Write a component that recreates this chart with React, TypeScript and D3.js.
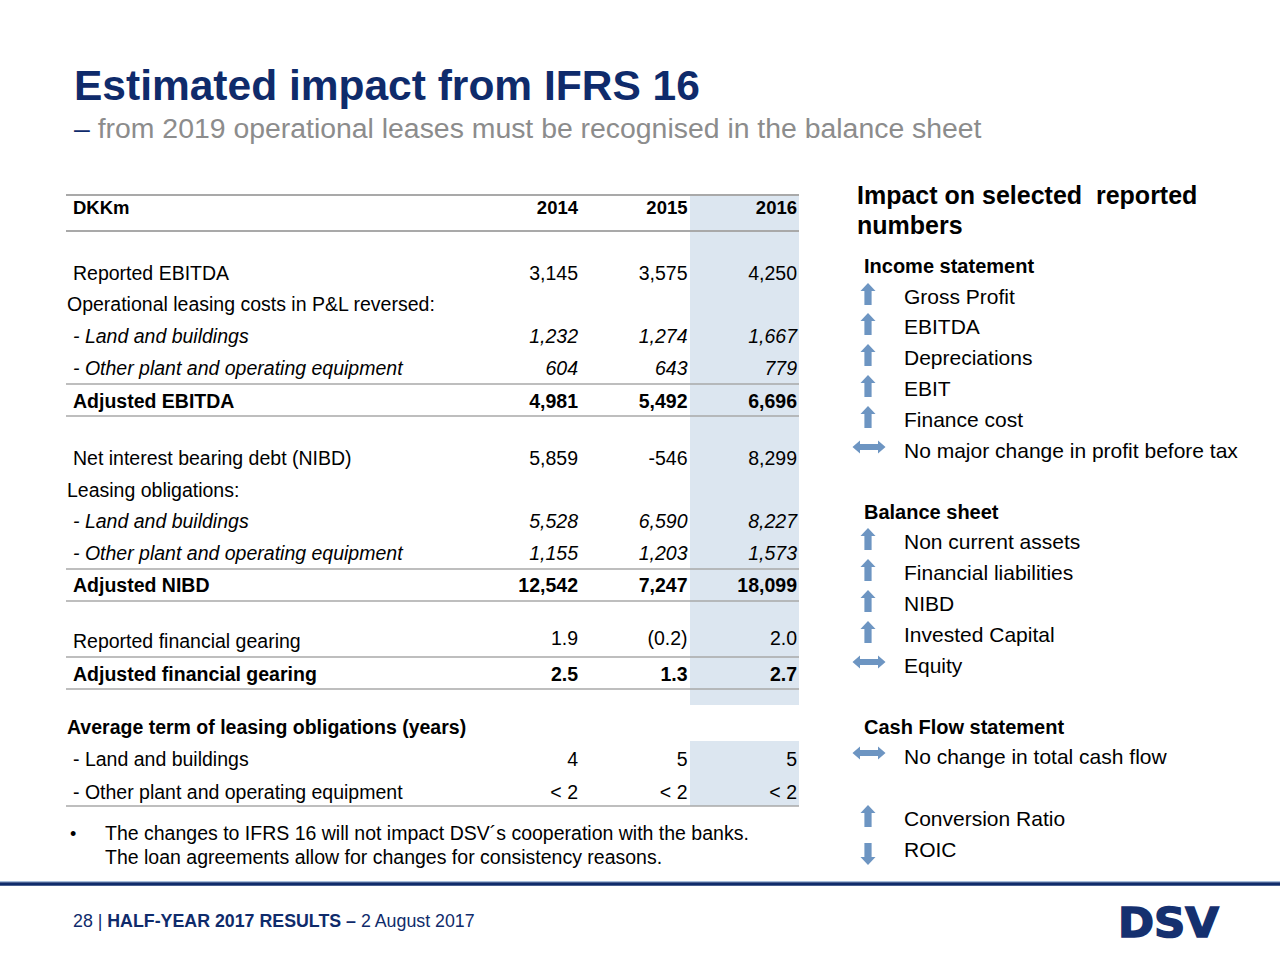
import React from "react";
import * as d3 from "d3";

// ---------- Data ----------
const years = ["2014", "2015", "2016"];
const reportedEBITDA = [3145, 3575, 4250];
const leaseCostLand = [1232, 1274, 1667];
const leaseCostOther = [604, 643, 779];
const adjustedEBITDA = [4981, 5492, 6696];
const nibd = [5859, -546, 8299];
const leaseObligLand = [5528, 6590, 8227];
const leaseObligOther = [1155, 1203, 1573];
const adjustedNIBD = [12542, 7247, 18099];
const reportedGearing = [1.9, -0.2, 2.0];
const adjustedGearing = [2.5, 1.3, 2.7];
const termLand = [4, 5, 5];
const termOther = ["< 2", "< 2", "< 2"];

const incomeItems = ["Gross Profit", "EBITDA", "Depreciations", "EBIT", "Finance cost", "No major change in profit before tax"];
const incomeDirs = ["up", "up", "up", "up", "up", "both"];
const balanceItems = ["Non current assets", "Financial liabilities", "NIBD", "Invested Capital", "Equity"];
const balanceDirs = ["up", "up", "up", "up", "both"];
const cashItems = ["No change in total cash flow"];
const cashDirs = ["both"];
const otherItems = ["Conversion Ratio", "ROIC"];
const otherDirs = ["up", "down"];

// ---------- Styling ----------
const FONT = "'Liberation Sans', Arial, Helvetica, sans-serif";
const NAVY = "#0f2b6b";
const ARROW = "#6d95c2";
const SHADE = "#dce6f0";
const RULE = "#a9a9a9";

const intFmt = d3.format(",");
const fmtInt = (v: number) => (v < 0 ? "-" + intFmt(-v) : intFmt(v));
const decFmt = d3.format(".1f");
const fmtGear = (v: number) => (v < 0 ? `(${decFmt(-v)})` : decFmt(v));

function Arrow({ dir, cx, cy }: { dir: string; cx: number; cy: number }) {
  let pts: [number, number][];
  if (dir === "both") {
    pts = [
      [-16.5, 0], [-9, -6.5], [-9, -3], [9, -3], [9, -6.5], [16.5, 0],
      [9, 6.5], [9, 3], [-9, 3], [-9, 6.5],
    ];
  } else {
    const s = dir === "up" ? 1 : -1;
    pts = [
      [0, -11], [7.5, -3], [3.6, -3], [3.6, 11], [-3.6, 11], [-3.6, -3], [-7.5, -3],
    ].map(([x, y]) => [x, y * s] as [number, number]);
  }
  const line = d3.line().curve(d3.curveLinearClosed);
  return <path d={line(pts.map(([x, y]) => [cx + x, cy + y]))!} fill={ARROW} />;
}

export default function App() {
  const W = 1280, H = 960;
  const x = d3.scalePoint<string>().domain(years).range([578, 797]);
  const tableLeft = 66, tableRight = 799;
  const shadeL = 690;
  const fs = 19.5;
  const base = (y: number, f = fs) => y + f * 0.35;

  type Row = { label: string; y: number; lx?: number; vals?: string[]; vy?: number; bold?: boolean; italic?: boolean };
  const rows: Row[] = [
    { label: "Reported EBITDA", y: 273, vals: reportedEBITDA.map(fmtInt) },
    { label: "Operational leasing costs in P&L reversed:", y: 304, lx: 67 },
    { label: "- Land and buildings", y: 336, vals: leaseCostLand.map(fmtInt), italic: true },
    { label: "- Other plant and operating equipment", y: 368, vals: leaseCostOther.map(fmtInt), italic: true },
    { label: "Adjusted EBITDA", y: 401, vals: adjustedEBITDA.map(fmtInt), bold: true },
    { label: "Net interest bearing debt (NIBD)", y: 458, vals: nibd.map(fmtInt) },
    { label: "Leasing obligations:", y: 490, lx: 67 },
    { label: "- Land and buildings", y: 521, vals: leaseObligLand.map(fmtInt), italic: true },
    { label: "- Other plant and operating equipment", y: 553, vals: leaseObligOther.map(fmtInt), italic: true },
    { label: "Adjusted NIBD", y: 585, vals: adjustedNIBD.map(fmtInt), bold: true },
    { label: "Reported financial gearing", y: 641, vy: 638, vals: reportedGearing.map(fmtGear) },
    { label: "Adjusted financial gearing", y: 674, vals: adjustedGearing.map(fmtGear), bold: true },
    { label: "Average term of leasing obligations (years)", y: 727, lx: 67, bold: true },
    { label: "- Land and buildings", y: 759, vals: termLand.map(String) },
    { label: "- Other plant and operating equipment", y: 792, vals: termOther },
  ];
  const rules: [number, number][] = [
    [195, 2], [231, 2], [384, 1.5], [416, 1.5], [569, 1.5], [601, 1.5], [657, 1.5], [689, 1.5], [806, 1.5],
  ];

  const rightX = 904, arrowX = 868;
  const sections: { head: string | null; hy: number; items: string[]; dirs: string[]; ys: number[] }[] = [
    { head: "Income statement", hy: 266, items: incomeItems, dirs: incomeDirs, ys: [297, 327, 358, 389, 420, 451] },
    { head: "Balance sheet", hy: 512, items: balanceItems, dirs: balanceDirs, ys: [542, 573, 604, 635, 666] },
    { head: "Cash Flow statement", hy: 727, items: cashItems, dirs: cashDirs, ys: [757] },
    { head: null, hy: 0, items: otherItems, dirs: otherDirs, ys: [819, 850] },
  ];
  const arrowOffset = (d: string) => (d === "both" ? -4 : d === "up" ? -3 : 4);

  return (
    <svg width={W} height={H} viewBox={`0 0 ${W} ${H}`} style={{ display: "block", position: "absolute", left: 0, top: 0 }} fontFamily={FONT}>
      <rect width={W} height={H} fill="#ffffff" />

      {/* Title */}
      <text x={74} y={100} fontSize={42.5} fontWeight="bold" fill={NAVY}>Estimated impact from IFRS 16</text>
      <text x={74} y={138} fontSize={28.4} fill="#8c8c8c">
        <tspan fill={NAVY}>–</tspan> from 2019 operational leases must be recognised in the balance sheet
      </text>

      {/* Table shading */}
      <rect x={shadeL} y={196} width={tableRight - shadeL} height={705 - 196} fill={SHADE} />
      <rect x={shadeL} y={741} width={tableRight - shadeL} height={806 - 741} fill={SHADE} />

      {/* Rules */}
      {rules.map(([y, w], i) => (
        <line key={i} x1={tableLeft} x2={tableRight} y1={y} y2={y} stroke={RULE} strokeWidth={w} />
      ))}

      {/* Header */}
      <text x={73} y={base(208, 18)} fontSize={18.5} fontWeight="bold" fill="#000">DKKm</text>
      {years.map((yr) => (
        <text key={yr} x={x(yr)} y={base(208, 18)} fontSize={18.5} fontWeight="bold" textAnchor="end" fill="#000">{yr}</text>
      ))}

      {/* Rows */}
      {rows.map((r, i) => (
        <g key={i} fontWeight={r.bold ? "bold" : "normal"} fontStyle={r.italic ? "italic" : "normal"} fontSize={fs} fill="#000">
          <text x={r.lx ?? 73} y={base(r.y)}>{r.label}</text>
          {r.vals && r.vals.map((v, j) => (
            <text key={j} x={x(years[j])} y={base(r.vy ?? r.y)} textAnchor="end">{v}</text>
          ))}
        </g>
      ))}

      {/* Bullet */}
      <text x={70} y={base(833, 19)} fontSize={18} fill="#000">•</text>
      <text x={105} y={base(833, 19)} fontSize={19.5} fill="#000">The changes to IFRS 16 will not impact DSV´s cooperation with the banks.</text>
      <text x={105} y={base(857, 19)} fontSize={19.5} fill="#000">The loan agreements allow for changes for consistency reasons.</text>

      {/* Right panel */}
      <text x={857} y={base(195, 25)} fontSize={25} fontWeight="bold" fill="#000" style={{ whiteSpace: "pre" }}>{"Impact on selected\u00A0 reported"}</text>
      <text x={857} y={base(225, 25)} fontSize={25} fontWeight="bold" fill="#000">numbers</text>
      {sections.map((s, si) => (
        <g key={si}>
          {s.head && <text x={864} y={base(s.hy, 20)} fontSize={20} fontWeight="bold" fill="#000">{s.head}</text>}
          {s.items.map((it, k) => (
            <g key={k}>
              <Arrow dir={s.dirs[k]} cx={s.dirs[k] === "both" ? arrowX + 1 : arrowX} cy={s.ys[k] + arrowOffset(s.dirs[k])} />
              <text x={rightX} y={base(s.ys[k], 21)} fontSize={21} fill="#000">{it}</text>
            </g>
          ))}
        </g>
      ))}

      {/* Footer */}
      <line x1={0} x2={W} y1={881.5} y2={881.5} stroke="#a7bddb" strokeWidth={1} />
      <line x1={0} x2={W} y1={884} y2={884} stroke={NAVY} strokeWidth={3.5} />
      <text x={73} y={base(921, 17)} fontSize={17.8} fill={NAVY}>
        28 | <tspan fontWeight="bold">HALF-YEAR 2017 RESULTS –</tspan> 2 August 2017
      </text>
      <text x={1118} y={937} fontSize={41} fontWeight="bold" fill="#15306f" stroke="#15306f" strokeWidth={1.5}
        fontFamily="'DejaVu Sans', sans-serif" textLength={101} lengthAdjust="spacingAndGlyphs">DSV</text>
    </svg>
  );
}
